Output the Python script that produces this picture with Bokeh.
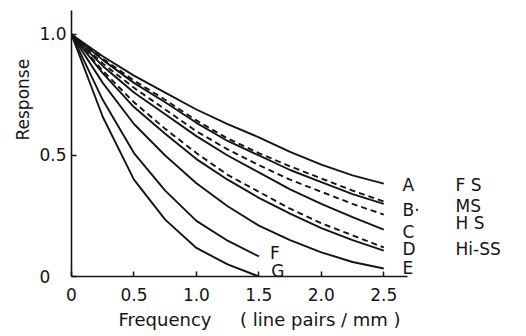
import math
from bokeh.plotting import figure
from bokeh.models import Range1d, FixedTicker, Label, LinearAxis, Title
from bokeh.embed import file_html
from bokeh.resources import INLINE

# ---- data ----
freq = [0.0, 0.25, 0.5, 0.75, 1.0, 1.25, 1.5, 1.75, 2.0, 2.25, 2.5]
freq_short = [0.0, 0.25, 0.5, 0.75, 1.0, 1.25, 1.5]

curve_A = [1.0, 0.91, 0.83, 0.76, 0.69, 0.63, 0.575, 0.515, 0.462, 0.418, 0.384]
dash_1 = [1.0, 0.90, 0.81, 0.73, 0.645, 0.57, 0.51, 0.455, 0.405, 0.355, 0.31]
curve_B = [1.0, 0.895, 0.80, 0.72, 0.635, 0.56, 0.50, 0.44, 0.39, 0.34, 0.30]
dash_2 = [1.0, 0.88, 0.78, 0.69, 0.60, 0.525, 0.46, 0.40, 0.35, 0.30, 0.256]
curve_C = [1.0, 0.87, 0.76, 0.67, 0.58, 0.50, 0.43, 0.36, 0.30, 0.245, 0.194]
dash_3 = [1.0, 0.85, 0.72, 0.61, 0.51, 0.42, 0.35, 0.28, 0.22, 0.17, 0.12]
curve_D = [1.0, 0.84, 0.70, 0.59, 0.485, 0.40, 0.325, 0.26, 0.20, 0.15, 0.107]
curve_E = [1.0, 0.80, 0.63, 0.50, 0.385, 0.29, 0.21, 0.15, 0.10, 0.06, 0.033]
curve_F = [1.0, 0.73, 0.51, 0.355, 0.23, 0.148, 0.083]
curve_G = [1.0, 0.66, 0.40, 0.235, 0.118, 0.05, 0.0]

x_tick_values = [0, 0.5, 1.0, 1.5, 2.0, 2.5]
x_tick_labels = ["0", "0.5", "1.0", "1.5", "2.0", "2.5"]
y_tick_values = [0.0, 0.5, 1.0]
y_tick_labels = ["0\u00a0\u00a0\u00a0", "0.5", "1.0"]

curve_letters = ["A", "B·", "C", "D", "E"]
letter_y = [0.376, 0.273, 0.182, 0.112, 0.037]
screen_names = ["F S", "MS", "H S", "Hi-SS"]
screen_y = [0.376, 0.293, 0.219, 0.112]

NB = "\u00a0"
x_title = "Frequency" + NB * 5 + "(" + NB + "line pairs" + NB + "/" + NB + "mm" + NB + ")"
y_title = "Response"

FONT = "DejaVu Sans"
INK = "#141414"

p = figure(frame_width=336, frame_height=266,
           x_range=Range1d(0, 2.69), y_range=Range1d(0, 1.099),
           min_border_left=71, min_border_right=117,
           min_border_top=10, min_border_bottom=58,
           output_backend="svg", toolbar_location=None)
p.outline_line_color = None
p.xgrid.grid_line_color = None
p.ygrid.grid_line_color = None
p.background_fill_color = "white"
p.border_fill_color = "white"

for ax in (p.xaxis, p.yaxis):
    ax.axis_line_width = 1.6
    ax.axis_line_color = INK
    ax.major_tick_line_width = 1.5
    ax.major_tick_line_color = INK
    ax.major_tick_in = 5
    ax.major_tick_out = 0
    ax.minor_tick_line_color = None
    ax.major_label_text_font = FONT
    ax.major_label_text_font_size = "17px"
    ax.major_label_text_color = INK

p.xaxis.ticker = FixedTicker(ticks=x_tick_values)
p.xaxis.major_label_overrides = dict(zip(x_tick_values, x_tick_labels))
p.xaxis.major_label_standoff = 11
p.yaxis.ticker = FixedTicker(ticks=y_tick_values)
p.yaxis.major_label_overrides = dict(zip(y_tick_values, y_tick_labels))
p.yaxis.major_label_standoff = 5

def side_axis(ticks, labels, standoff):
    ax = LinearAxis(ticker=FixedTicker(ticks=ticks),
                    major_label_overrides=dict(zip(ticks, labels)),
                    axis_line_color=None, major_tick_line_color=None,
                    minor_tick_line_color=None,
                    major_label_standoff=standoff,
                    major_label_text_font=FONT,
                    major_label_text_font_size="17px",
                    major_label_text_color=INK)
    p.add_layout(ax, "right")

side_axis(letter_y, curve_letters, -11)
side_axis(screen_y, screen_names, 27)

solid = dict(line_color=INK, line_width=1.9)
dashed = dict(line_color=INK, line_width=1.9, line_dash="6 4")

p.line(freq, curve_A, **solid)
p.line(freq, dash_1, **dashed)
p.line(freq, curve_B, **solid)
p.line(freq, dash_2, **dashed)
p.line(freq, curve_C, **solid)
p.line(freq, dash_3, **dashed)
p.line(freq, curve_D, **solid)
p.line(freq, curve_E, **solid)
p.line(freq_short, curve_F, **solid)
p.line(freq_short, curve_G, **solid)

for t, (xx, yy) in zip(["F", "G"], [(1.59, 0.099), (1.60, 0.022)]):
    p.add_layout(Label(x=xx, y=yy, text=t, text_font=FONT, text_font_size="17px",
                       text_color=INK, text_align="left", text_baseline="middle"))

p.add_layout(Title(text=x_title, align="left", offset=47, standoff=7,
                   text_font=FONT, text_font_size="18px", text_font_style="normal",
                   text_color=INK), "below")
p.add_layout(Title(text=y_title, align="left", offset=136, standoff=8,
                   text_font=FONT, text_font_size="17px", text_font_style="normal",
                   text_color=INK), "left")

open("out.html", "w").write(file_html(p, INLINE))
